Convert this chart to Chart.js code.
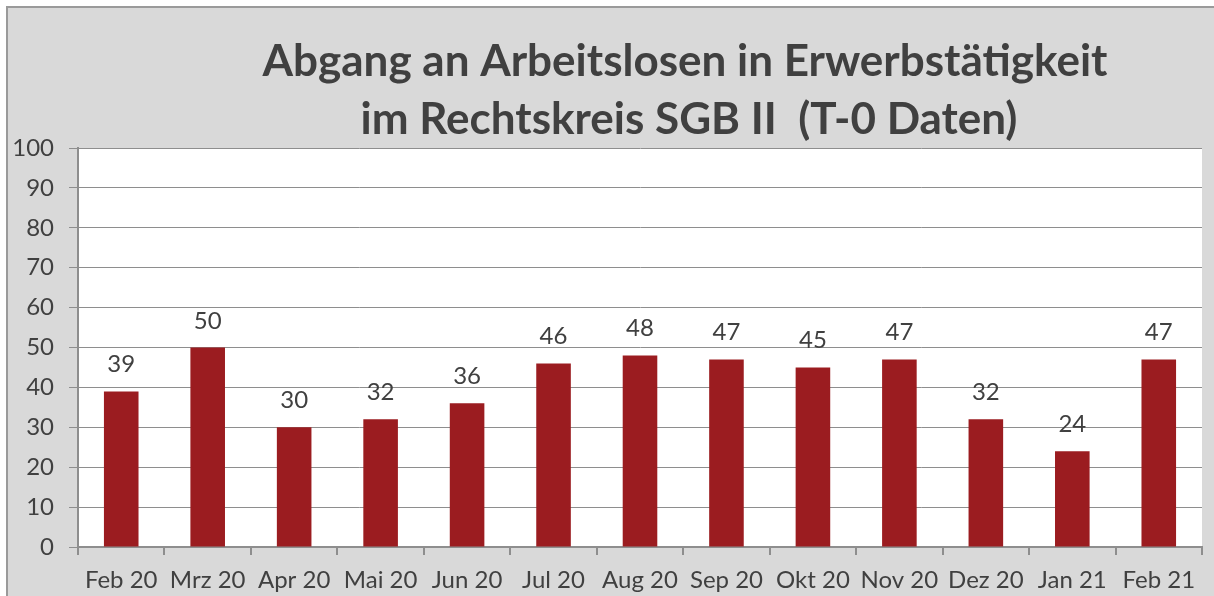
<!DOCTYPE html>
<html>
<head>
<meta charset="utf-8">
<script src="https://cdn.jsdelivr.net/npm/chart.js@4.4.1/dist/chart.umd.min.js"></script>
<style>
  html, body { margin: 0; padding: 0; background: #ffffff; }
  #wrap { position: relative; width: 1214px; height: 596px; }
</style>
</head>
<body>
<div id="wrap"><canvas id="abgangChart" width="1214" height="596"></canvas></div>
<script>
// Daten
const months = ['Feb 20', 'Mrz 20', 'Apr 20', 'Mai 20', 'Jun 20', 'Jul 20', 'Aug 20', 'Sep 20', 'Okt 20', 'Nov 20', 'Dez 20', 'Jan 21', 'Feb 21'];
const abgaenge = [39, 50, 30, 32, 36, 46, 48, 47, 45, 47, 32, 24, 47];
const titleLines = ['Abgang an Arbeitslosen in Erwerbstätigkeit', 'im Rechtskreis SGB II  (T-0 Daten)'];
const yMin = 0, yMax = 100, yStep = 10;

const textColor = '#404040';
const gridColor = '#8e8e8e';
const barColor = '#9b1c20';

// grauer Hintergrund + Rahmen
const backgroundPlugin = {
  id: 'bgFrame',
  beforeDraw(chart) {
    const ctx = chart.ctx;
    ctx.save();
    ctx.fillStyle = '#d9d9d9';
    ctx.fillRect(7, 6, chart.width - 7, chart.height - 6);
    ctx.fillStyle = '#ffffff';
    const a = chart.chartArea;
    ctx.fillRect(a.left, a.top, a.right - a.left, a.bottom - a.top);
    ctx.strokeStyle = '#9a9a9a';
    ctx.lineWidth = 2;
    ctx.beginPath();
    ctx.moveTo(7, chart.height);
    ctx.lineTo(7, 7);
    ctx.lineTo(chart.width, 7);
    ctx.stroke();
    ctx.restore();
  }
};

// Titel (zweizeilig)
const titlePlugin = {
  id: 'twoLineTitle',
  afterDraw(chart) {
    const ctx = chart.ctx;
    const a = chart.chartArea;
    ctx.save();
    ctx.font = 'bold 44px Lato';
    ctx.fillStyle = textColor;
    ctx.textAlign = 'center';
    ctx.textBaseline = 'alphabetic';
    const cx = (a.left + a.right) / 2 + 45;
    ctx.fillText(titleLines[0], cx, 76);
    ctx.fillText(titleLines[1], cx + 4, 134);
    ctx.restore();
  }
};

// Werte über den Balken
const valueLabels = {
  id: 'valueLabels',
  afterDatasetsDraw(chart) {
    const ctx = chart.ctx;
    const meta = chart.getDatasetMeta(0);
    ctx.save();
    ctx.font = '24px Lato';
    ctx.fillStyle = textColor;
    ctx.textAlign = 'center';
    ctx.textBaseline = 'alphabetic';
    meta.data.forEach(function(bar, i) {
      ctx.fillText(String(chart.data.datasets[0].data[i]), bar.x, bar.y - 19);
    });
    ctx.restore();
  }
};

const ctx = document.getElementById('abgangChart').getContext('2d');
new Chart(ctx, {
  type: 'bar',
  data: {
    labels: months,
    datasets: [{
      data: abgaenge,
      backgroundColor: barColor,
      borderWidth: 0,
      barPercentage: 0.4,
      categoryPercentage: 1.0
    }]
  },
  options: {
    responsive: false,
    animation: false,
    layout: { padding: { left: 8, right: 12, top: 148, bottom: 0 } },
    plugins: {
      legend: { display: false },
      tooltip: { enabled: false },
      title: { display: false }
    },
    scales: {
      y: {
        min: yMin,
        max: yMax,
        afterFit(scale) { scale.width = 70; },
        ticks: {
          stepSize: yStep,
          color: textColor,
          font: { family: 'Lato', size: 24 },
          padding: 15
        },
        grid: { color: gridColor, tickLength: 9, lineWidth: 1 },
        border: { color: gridColor, width: 2 }
      },
      x: {
        afterFit(scale) { scale.height = 49; },
        ticks: {
          color: textColor,
          font: { family: 'Lato', size: 24 },
          padding: 11,
          maxRotation: 0,
          autoSkip: false
        },
        grid: { offset: true, drawOnChartArea: false, color: gridColor, tickLength: 8, lineWidth: 2 },
        border: { color: gridColor, width: 2 }
      }
    }
  },
  plugins: [backgroundPlugin, titlePlugin, valueLabels]
});
</script>
</body>
</html>
